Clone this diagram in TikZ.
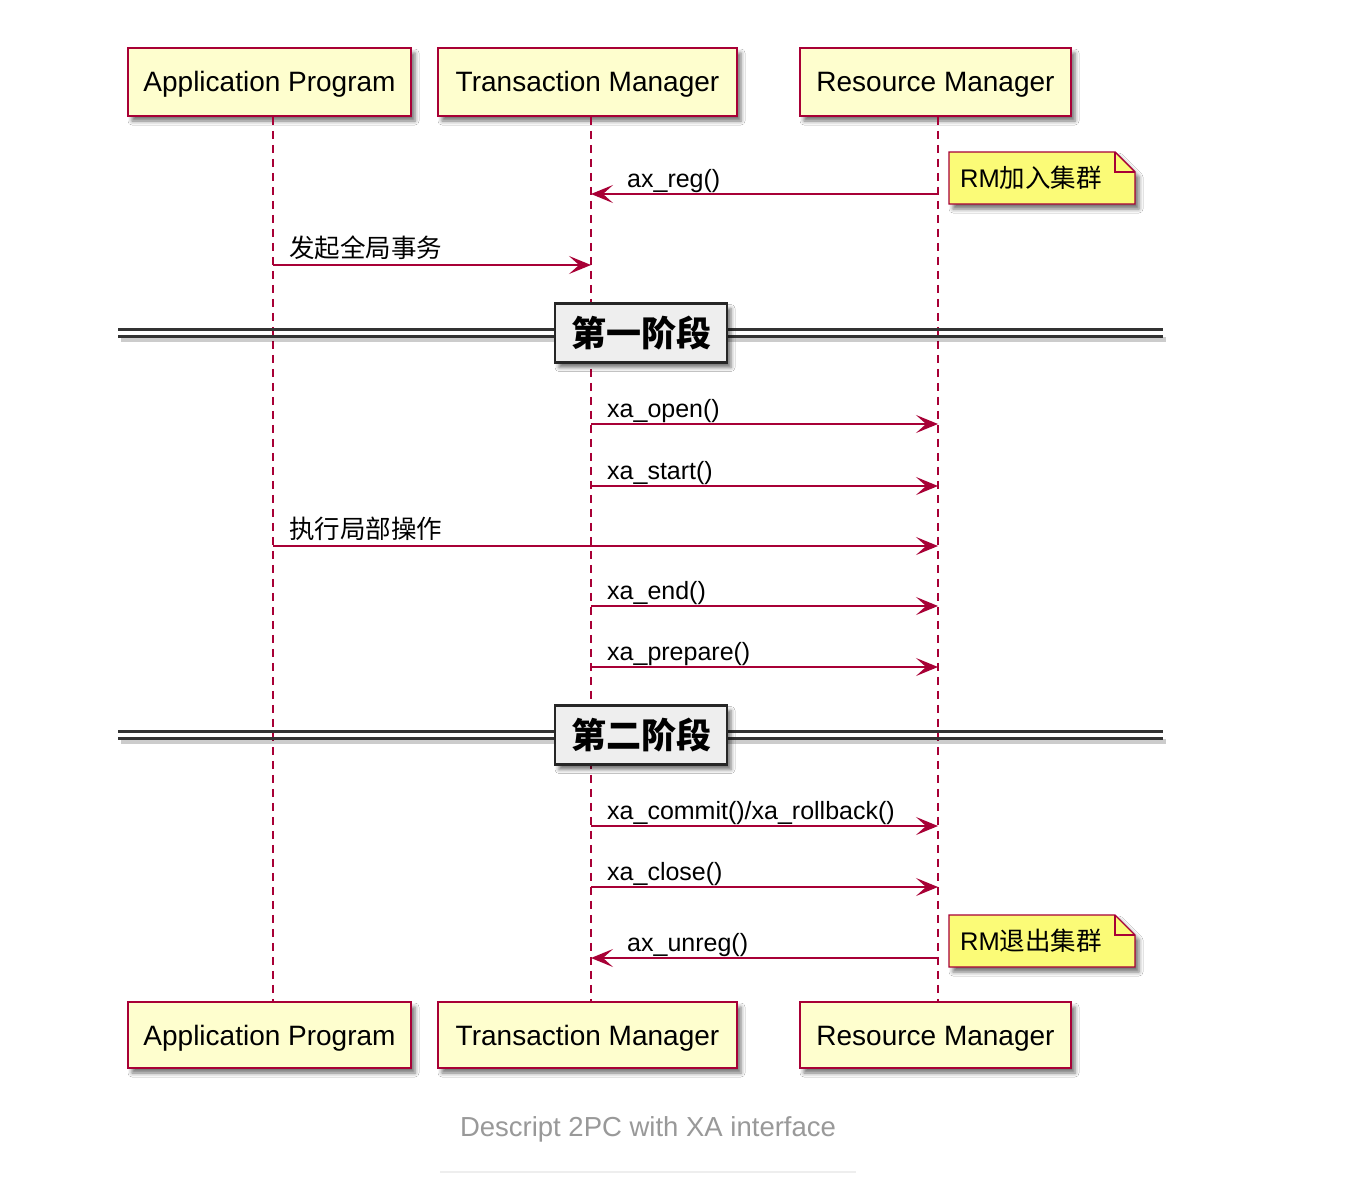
\documentclass[tikz,border=0pt]{standalone}
\usepackage{fontspec}
\setmainfont{Liberation Sans}
\newfontfamily\cjk{Noto Sans CJK SC}
\usetikzlibrary{arrows.meta,shadows.blur}
\definecolor{umlred}{HTML}{A80036}
\definecolor{partfill}{HTML}{FEFECE}
\definecolor{notefill}{HTML}{FBFB77}
\definecolor{divfill}{HTML}{EEEEEE}
\definecolor{captgray}{HTML}{999999}
\definecolor{rulegray}{HTML}{EEEEEE}
\begin{document}
\begin{tikzpicture}[x=1pt,y=-1pt,
  shad/.style={blur shadow={shadow xshift=4pt,shadow yshift=-5pt,shadow blur radius=4pt,shadow opacity=55}},
  part/.style={draw=umlred,line width=1.7pt,fill=partfill,minimum height=68pt,inner sep=0pt,text height=20pt,text depth=0pt,font=\fontsize{28}{32}\selectfont,shad},
  life/.style={draw=umlred,line width=1.4pt,dash pattern=on 8pt off 6pt},
  msg/.style={draw=umlred,line width=1.4pt,-{Stealth[length=22pt,width=18pt,inset=10pt]}},
  lbl/.style={anchor=base west,inner sep=0pt,font=\fontsize{25}{30}\selectfont},
  cjklbl/.style={anchor=base west,inner sep=0pt,font=\fontsize{25.5}{30}\cjk},
  notebox/.style={draw=umlred,line width=1.4pt,fill=notefill,shad},
  notetext/.style={anchor=base west,inner sep=0pt,font=\fontsize{25.5}{30}\selectfont},
  divbox/.style={draw=black!85,line width=2.6pt,fill=divfill,minimum width=172pt,minimum height=59pt,inner sep=0pt,font=\fontsize{35}{40}\cjk\bfseries,shad},
  divline/.style={draw=black!80,line width=2.2pt},
  divshadow/.style={draw=black,opacity=0.2,line width=5pt},
]
\useasboundingbox (0,0) rectangle (1372,1188);
\fill[white] (0,0) rectangle (1372,1188);

% lifeline x positions
\coordinate (apx) at (273,0);
\coordinate (tmx) at (591,0);
\coordinate (rmx) at (938,0);

% participants
\node[part,minimum width=283pt] (ap) at (269.5,82) {Application Program};
\node[part,minimum width=299pt] (tm) at (587.5,82) {Transaction Manager};
\node[part,minimum width=271pt] (rm) at (935.5,82) {Resource Manager};
\node[part,minimum width=283pt,minimum height=66pt] (apb) at (269.5,1035) {Application Program};
\node[part,minimum width=299pt,minimum height=66pt] (tmb) at (587.5,1035) {Transaction Manager};
\node[part,minimum width=271pt,minimum height=66pt] (rmb) at (935.5,1035) {Resource Manager};

% lifelines
\draw[life] (ap.south -| apx) -- (apb.north -| apx);
\draw[life] (tm.south -| tmx) -- (tmb.north -| tmx);
\draw[life] (rm.south -| rmx) -- (rmb.north -| rmx);

% message coordinates
\coordinate (t1) at (591,194); \coordinate (r1) at (938,194);
\coordinate (a2) at (273,265); \coordinate (t2) at (591,265);
\coordinate (t3) at (591,424); \coordinate (r3) at (938,424);
\coordinate (t4) at (591,486); \coordinate (r4) at (938,486);
\coordinate (a5) at (273,546); \coordinate (r5) at (938,546);
\coordinate (t6) at (591,606); \coordinate (r6) at (938,606);
\coordinate (t7) at (591,667); \coordinate (r7) at (938,667);
\coordinate (t8) at (591,826); \coordinate (r8) at (938,826);
\coordinate (t9) at (591,887); \coordinate (r9) at (938,887);
\coordinate (t10) at (591,958); \coordinate (r10) at (938,958);

% messages
\draw[msg] (r1) -- (t1);
\node[lbl] (l1) at (627,187) {ax\_reg()};
\draw[msg] (a2) -- (t2);
\node[cjklbl] (l2) at (289,257) {发起全局事务};
\draw[msg] (t3) -- (r3);
\node[lbl] (l3) at (607,417) {xa\_open()};
\draw[msg] (t4) -- (r4);
\node[lbl] (l4) at (607,479) {xa\_start()};
\draw[msg] (a5) -- (r5);
\node[cjklbl] (l5) at (289,538) {执行局部操作};
\draw[msg] (t6) -- (r6);
\node[lbl] (l6) at (607,599) {xa\_end()};
\draw[msg] (t7) -- (r7);
\node[lbl] (l7) at (607,660) {xa\_prepare()};
\draw[msg] (t8) -- (r8);
\node[lbl] (l8) at (607,819) {xa\_commit()/xa\_rollback()};
\draw[msg] (t9) -- (r9);
\node[lbl] (l9) at (607,880) {xa\_close()};
\draw[msg] (r10) -- (t10);
\node[lbl] (l10) at (627,951) {ax\_unreg()};

% notes
\path[notebox] (949,152) -- (1115,152) -- (1135,172) -- (1135,204) -- (949,204) -- cycle;
\draw[umlred,line width=1.4pt] (1115,152) -- (1115,172) -- (1135,172);
\node[notetext] (n1) at (960,187) {RM{\cjk 加入集群}};
\path[notebox] (949,915) -- (1115,915) -- (1135,935) -- (1135,967) -- (949,967) -- cycle;
\draw[umlred,line width=1.4pt] (1115,915) -- (1115,935) -- (1135,935);
\node[notetext] (n2) at (960,950) {RM{\cjk 退出集群}};

% dividers
\draw[divshadow] (121,339) -- (1166,339);
\draw[divline] (118,329.5) -- (1163,329.5);
\draw[divline] (118,336.5) -- (1163,336.5);
\node[divbox] (d1) at (641,333) {第一阶段};
\draw[divshadow] (121,741) -- (1166,741);
\draw[divline] (118,731.5) -- (1163,731.5);
\draw[divline] (118,738.5) -- (1163,738.5);
\node[divbox] (d2) at (641,735) {第二阶段};

% caption
\node[font=\fontsize{27.5}{32}\selectfont,text=captgray,inner sep=0pt] (cap) at (648,1129) {Descript 2PC with XA interface};
\draw[rulegray,line width=1.5pt] (440,1172) -- (856,1172);
\end{tikzpicture}
\end{document}
